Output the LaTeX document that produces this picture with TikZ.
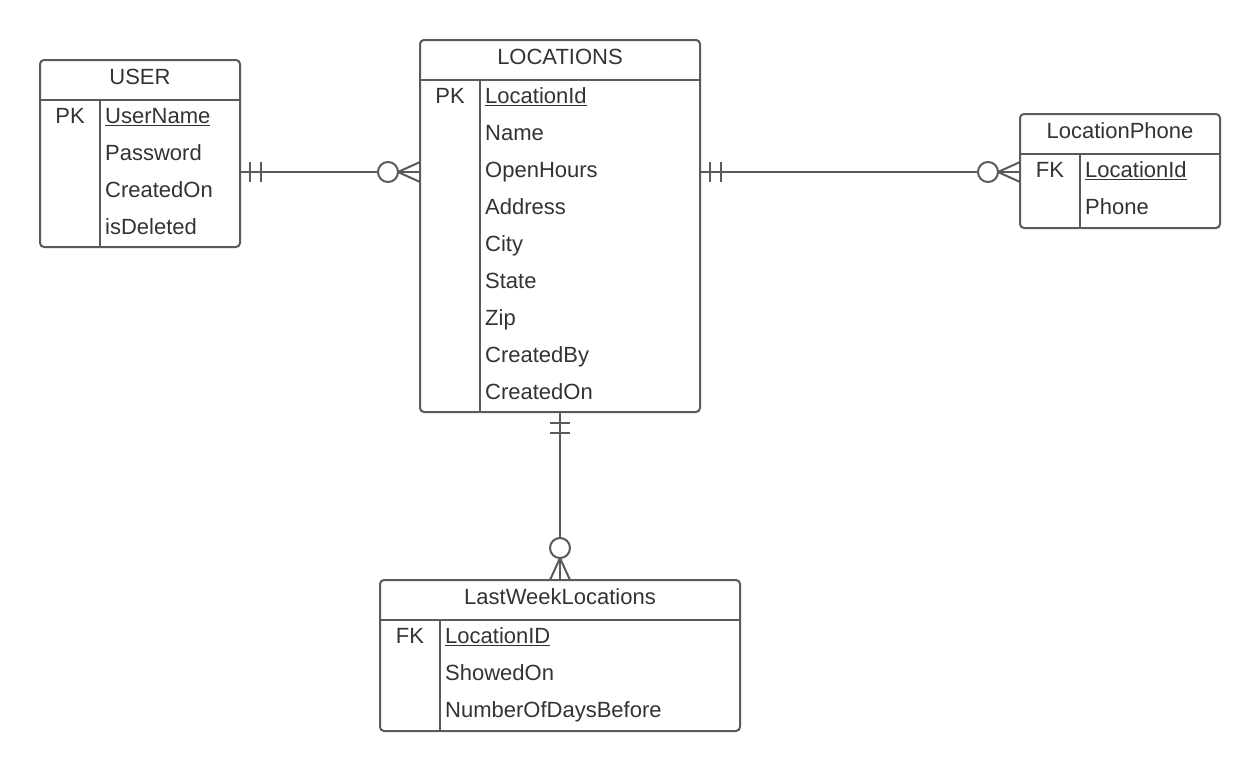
\documentclass[tikz,border=0pt]{standalone}
\usepackage{fontspec}
\setmainfont{Liberation Sans}
\usetikzlibrary{calc}
\definecolor{linec}{HTML}{5A5A5A}
\definecolor{txtc}{HTML}{333333}
\begin{document}
\begin{tikzpicture}[x=1pt,y=-1pt,
  ent/.style={draw=linec,line width=2pt,rounded corners=4pt,inner sep=0pt,outer sep=0pt,anchor=north west},
  sep/.style={draw=linec,line width=2pt},
  conn/.style={draw=linec,line width=2pt},
  ttl/.style={text=txtc,font=\fontsize{22}{25}\selectfont,anchor=base,inner sep=0pt},
  fld/.style={text=txtc,font=\fontsize{22}{25}\selectfont,anchor=base west,inner sep=0pt},
  key/.style={text=txtc,font=\fontsize{22}{25}\selectfont,anchor=base,inner sep=0pt}]
\useasboundingbox (0,0) rectangle (1260,771);
\fill[white] (0,0) rectangle (1260,771);

% ---------- USER ----------
\node[ent,minimum width=200pt,minimum height=187pt] (user) at (40,60) {};
\draw[sep] (40,100) -- (240,100);
\draw[sep] (100,100) -- (100,247);
\node[ttl] (userT) at (140,84.9) {USER};
\node[key] (userK) at (70,123.9) {PK};
\node[fld] (userF1) at (105,123.9) {\underline{UserName}};
\node[fld] (userF2) at (105,160.9) {Password};
\node[fld] (userF3) at (105,197.9) {CreatedOn};
\node[fld] (userF4) at (105,234.9) {isDeleted};

% ---------- LOCATIONS ----------
\node[ent,minimum width=280pt,minimum height=372pt] (loc) at (420,40) {};
\draw[sep] (420,80) -- (700,80);
\draw[sep] (480,80) -- (480,412);
\node[ttl] (locT) at (560,64.9) {LOCATIONS};
\node[key] (locK) at (450,103.9) {PK};
\node[fld] (locF1) at (485,103.9) {\underline{LocationId}};
\node[fld] (locF2) at (485,140.9) {Name};
\node[fld] (locF3) at (485,177.9) {OpenHours};
\node[fld] (locF4) at (485,214.9) {Address};
\node[fld] (locF5) at (485,251.9) {City};
\node[fld] (locF6) at (485,288.9) {State};
\node[fld] (locF7) at (485,325.9) {Zip};
\node[fld] (locF8) at (485,362.9) {CreatedBy};
\node[fld] (locF9) at (485,399.9) {CreatedOn};

% ---------- LocationPhone ----------
\node[ent,minimum width=200pt,minimum height=114pt] (ph) at (1020,114) {};
\draw[sep] (1020,154) -- (1220,154);
\draw[sep] (1080,154) -- (1080,228);
\node[ttl] (phT) at (1120,138.9) {LocationPhone};
\node[key] (phK) at (1050,177.9) {FK};
\node[fld] (phF1) at (1085,177.9) {\underline{LocationId}};
\node[fld] (phF2) at (1085,214.9) {Phone};

% ---------- LastWeekLocations ----------
\node[ent,minimum width=360pt,minimum height=151pt] (lw) at (380,580) {};
\draw[sep] (380,620) -- (740,620);
\draw[sep] (440,620) -- (440,731);
\node[ttl] (lwT) at (560,604.9) {LastWeekLocations};
\node[key] (lwK) at (410,643.9) {FK};
\node[fld] (lwF1) at (445,643.9) {\underline{LocationID}};
\node[fld] (lwF2) at (445,680.9) {ShowedOn};
\node[fld] (lwF3) at (445,717.9) {NumberOfDaysBefore};

% ---------- connector anchors ----------
\coordinate (a1) at ($(user.north east)+(0,112)$);
\coordinate (b1) at ($(loc.north west)+(0,132)$);
\coordinate (a2) at ($(loc.north east)+(0,132)$);
\coordinate (b2) at ($(ph.north west)+(0,58)$);
\coordinate (a3) at (loc.south);
\coordinate (b3) at (lw.north);

% USER -- LOCATIONS
\draw[conn] (a1) -- (b1);
\draw[conn] ($(a1)+(10,-10)$) -- ($(a1)+(10,10)$);
\draw[conn] ($(a1)+(21,-10)$) -- ($(a1)+(21,10)$);
\draw[conn] ($(b1)+(-22,0)$) -- ($(b1)+(0,-10)$);
\draw[conn] ($(b1)+(-22,0)$) -- ($(b1)+(0,10)$);
\draw[conn,fill=white] ($(b1)+(-32,0)$) circle (10);

% LOCATIONS -- LocationPhone
\draw[conn] (a2) -- (b2);
\draw[conn] ($(a2)+(10,-10)$) -- ($(a2)+(10,10)$);
\draw[conn] ($(a2)+(21,-10)$) -- ($(a2)+(21,10)$);
\draw[conn] ($(b2)+(-22,0)$) -- ($(b2)+(0,-10)$);
\draw[conn] ($(b2)+(-22,0)$) -- ($(b2)+(0,10)$);
\draw[conn,fill=white] ($(b2)+(-32,0)$) circle (10);

% LOCATIONS -- LastWeekLocations
\draw[conn] (a3) -- (b3);
\draw[conn] ($(a3)+(-10,11)$) -- ($(a3)+(10,11)$);
\draw[conn] ($(a3)+(-10,21)$) -- ($(a3)+(10,21)$);
\draw[conn] ($(b3)+(0,-22)$) -- ($(b3)+(-10,0)$);
\draw[conn] ($(b3)+(0,-22)$) -- ($(b3)+(10,0)$);
\draw[conn,fill=white] ($(b3)+(0,-32)$) circle (10);
\end{tikzpicture}
\end{document}
